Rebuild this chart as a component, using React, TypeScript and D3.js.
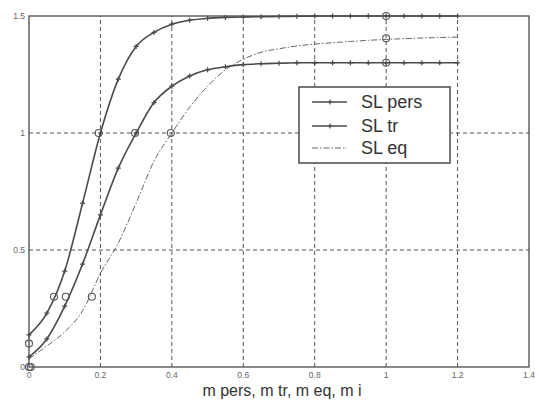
import * as d3 from "d3";

const xValues = [0, 0.05, 0.1, 0.15, 0.2, 0.25, 0.3, 0.35, 0.4, 0.45, 0.5, 0.55, 0.6, 0.65, 0.7, 0.75, 0.8, 0.85, 0.9, 0.95, 1.0, 1.05, 1.1, 1.15, 1.2];
const slPers = [0.137, 0.23, 0.41, 0.7, 1.0, 1.23, 1.37, 1.43, 1.465, 1.482, 1.49, 1.494, 1.496, 1.497, 1.498, 1.499, 1.5, 1.5, 1.5, 1.5, 1.5, 1.5, 1.5, 1.5, 1.5];
const slTr = [0.043, 0.12, 0.26, 0.44, 0.65, 0.85, 1.0, 1.13, 1.2, 1.244, 1.27, 1.283, 1.292, 1.296, 1.298, 1.3, 1.3, 1.3, 1.3, 1.3, 1.3, 1.3, 1.3, 1.3, 1.3];
const slEq = [0.035, 0.09, 0.15, 0.24, 0.4, 0.53, 0.7, 0.88, 1.0, 1.11, 1.2, 1.27, 1.315, 1.345, 1.36, 1.372, 1.38, 1.386, 1.391, 1.396, 1.4, 1.403, 1.406, 1.408, 1.41];

// circle markers (m pers, m tr, m eq, m i)
const circleX = [0, 0.07, 0.195, 1.0, 0, 0.103, 0.297, 1.0, 0.005, 0.176, 0.397, 1.0];
const circleY = [0.1, 0.3, 1.0, 1.5, 0, 0.3, 1.0, 1.3, 0, 0.3, 1.0, 1.405];

const xTicks = [0, 0.2, 0.4, 0.6, 0.8, 1, 1.2, 1.4];
const yTicks = [0, 0.5, 1, 1.5];
const legendLabels = ["SL pers", "SL tr", "SL eq"];
const xTitle = "m pers, m tr, m eq, m i";

const W = 539;
const H = 401;
const ink = "#4a4a4a";

export default function App() {
  const x = d3.scaleLinear().domain([0, 1.4]).range([29, 529]);
  const y = d3.scaleLinear().domain([0, 1.5]).range([367, 16]);

  const line = (vals: number[]) =>
    d3.line<number>().x((_, i) => x(xValues[i])).y((d) => y(d)).curve(d3.curveMonotoneX)(vals) || "";

  const plus = (cx: number, cy: number, key: string, s = 2.5) => (
    <path key={key} d={`M${cx - s},${cy}H${cx + s}M${cx},${cy - s}V${cy + s}`} stroke={ink} strokeWidth={1.2} />
  );

  const lx0 = 299, ly0 = 87, lw = 151, lh = 76;
  const legendRows = [102, 126, 148];

  return (
    <svg width={W} height={H} style={{ position: "absolute", left: 0, top: 0, background: "#fff" }} fontFamily="Liberation Sans, Arial, sans-serif">
      {/* grid */}
      {xTicks.slice(1, -1).map((t) => (
        <line key={"gx" + t} x1={x(t)} x2={x(t)} y1={y(0)} y2={y(1.5)} stroke="#555" strokeWidth={1} strokeDasharray="4,3" />
      ))}
      {yTicks.slice(1, -1).map((t) => (
        <line key={"gy" + t} x1={x(0)} x2={x(1.4)} y1={y(t)} y2={y(t)} stroke="#555" strokeWidth={1} strokeDasharray="4,3" />
      ))}
      {/* axes box */}
      <rect x={x(0)} y={y(1.5)} width={x(1.4) - x(0)} height={y(0) - y(1.5)} fill="none" stroke={ink} strokeWidth={1.3} />
      {/* tick labels */}
      {xTicks.map((t) => (
        <text key={"tx" + t} x={x(t)} y={378} fontSize={8.5} fill="#666" textAnchor="middle">{String(t)}</text>
      ))}
      {yTicks.map((t) => (
        <text key={"ty" + t} x={x(0) - 4} y={y(t) + 3} fontSize={8.5} fill="#666" textAnchor="end">{String(t)}</text>
      ))}
      {/* curves */}
      <path d={line(slEq)} fill="none" stroke="#666" strokeWidth={1} strokeDasharray="6,2,1.5,2" />
      <path d={line(slTr)} fill="none" stroke={ink} strokeWidth={1.6} />
      <path d={line(slPers)} fill="none" stroke={ink} strokeWidth={1.6} />
      {slTr.map((v, i) => plus(x(xValues[i]), y(v), "pt" + i))}
      {slPers.map((v, i) => plus(x(xValues[i]), y(v), "pp" + i))}
      {circleX.map((cx, i) => (
        <circle key={"c" + i} cx={x(cx)} cy={y(circleY[i])} r={3.5} fill="none" stroke="#555" strokeWidth={1.1} />
      ))}
      {/* legend */}
      <rect x={lx0} y={ly0} width={lw} height={lh} fill="#fff" stroke={ink} strokeWidth={1.5} />
      {legendLabels.map((lab, i) => (
        <g key={lab}>
          <line x1={312} x2={347} y1={legendRows[i]} y2={legendRows[i]} stroke={i === 2 ? "#666" : ink}
            strokeWidth={i === 2 ? 1 : 1.6} strokeDasharray={i === 2 ? "6,2,1.5,2" : undefined} />
          {i < 2 && plus(330, legendRows[i], "lp" + i)}
          <text x={361} y={legendRows[i] + 6} fontSize={18} fill="#333">{lab}</text>
        </g>
      ))}
      {/* x title */}
      <text x={282} y={396} fontSize={16} fill="#333" textAnchor="middle">{xTitle}</text>
    </svg>
  );
}
